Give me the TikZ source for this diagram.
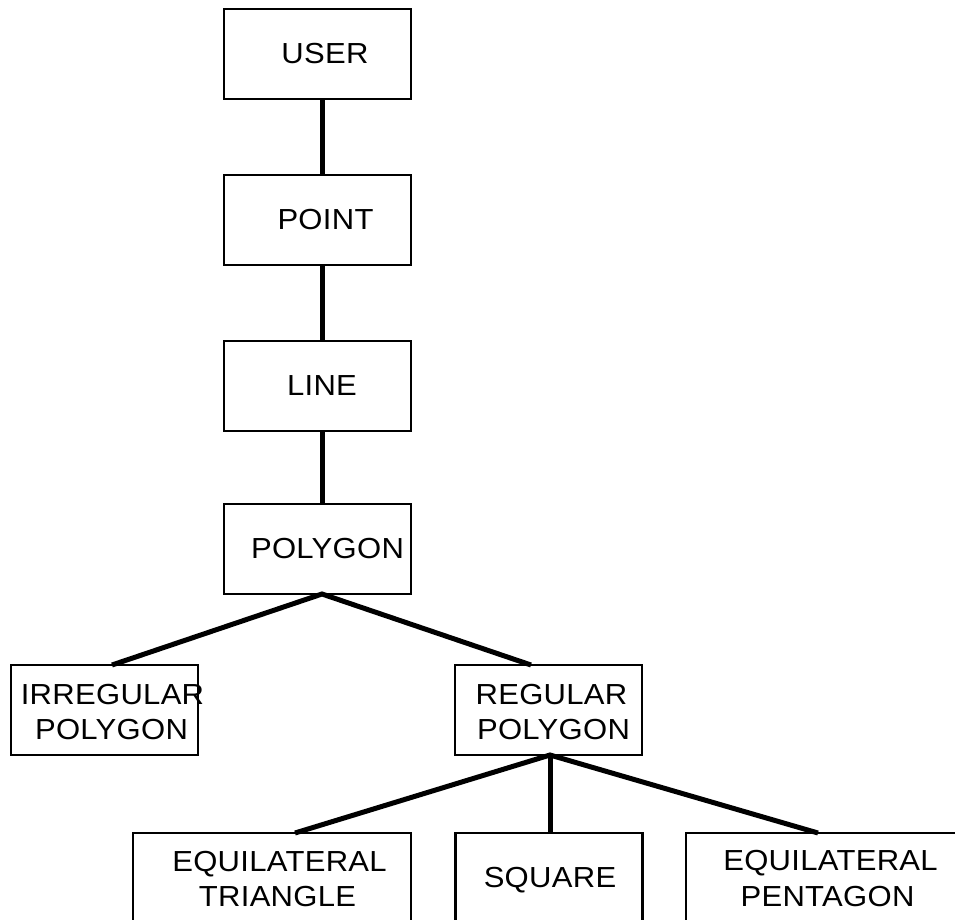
\documentclass[tikz,border=0pt]{standalone}
\usepackage{fontspec}
\setmainfont{Liberation Sans}[FakeStretch=1.07,LetterSpace=1]
\begin{document}
\begin{tikzpicture}[x=1pt,y=-1pt,
  box/.style={draw=black,line width=2.4pt,minimum width=187pt,minimum height=90pt,inner sep=0pt,outer sep=0pt},
  wbox/.style={box,minimum width=278pt},
  lbl/.style={anchor=base,inner sep=0pt,font=\fontsize{29}{30}\selectfont},
  conn/.style={line width=5pt}]
\useasboundingbox (0,0) rectangle (955,920);
\clip (0,0) rectangle (955,920);
\fill[white] (0,0) rectangle (955,920);
% boxes
\node[box] (user) at (317.5,54) {};
\node[box] (point) at (317.5,220) {};
\node[box] (line) at (317.5,386) {};
\node[box] (polygon) at (317.5,549) {};
\node[box] (irr) at (104.5,710) {};
\node[box] (reg) at (548.5,710) {};
\node[wbox] (tri) at (272,878) {};
\node[box] (sq) at (549,878) {};
\node[wbox] (pent) at (825,878) {};
% labels
\node[lbl] (tuser) at (325,63.3) {USER};
\node[lbl] (tpoint) at (325.5,229) {POINT};
\node[lbl] (tline) at (322,395) {LINE};
\node[lbl] (tpoly) at (327.5,558) {POLYGON};
\node[lbl] (tirr1) at (112.5,704) {IRREGULAR};
\node[lbl] (tirr2) at (111.5,739) {POLYGON};
\node[lbl] (treg1) at (551.5,704) {REGULAR};
\node[lbl] (treg2) at (553.5,739) {POLYGON};
\node[lbl] (ttri1) at (279.5,871) {EQUILATERAL};
\node[lbl] (ttri2) at (277.5,906) {TRIANGLE};
\node[lbl] (tsq) at (550,887) {SQUARE};
\node[lbl] (tpen1) at (830.5,870) {EQUILATERAL};
\node[lbl] (tpen2) at (827.5,906) {PENTAGON};
% connector points
\coordinate (polyj) at ([xshift=4.5pt]polygon.south);
\coordinate (regj) at ([xshift=1.5pt]reg.south);
\draw[conn] ([xshift=4.5pt]user.south) -- ([xshift=4.5pt]point.north);
\draw[conn] ([xshift=4.5pt]point.south) -- ([xshift=4.5pt]line.north);
\draw[conn] ([xshift=4.5pt]line.south) -- ([xshift=4.5pt]polygon.north);
\draw[conn] ([xshift=7.5pt]irr.north) -- (polyj) -- ([xshift=-17.5pt]reg.north);
\draw[conn] ([xshift=23pt]tri.north) -- (regj) -- ([xshift=-7pt]pent.north);
\draw[conn] (regj) -- ([xshift=1pt]sq.north);
\end{tikzpicture}
\end{document}
